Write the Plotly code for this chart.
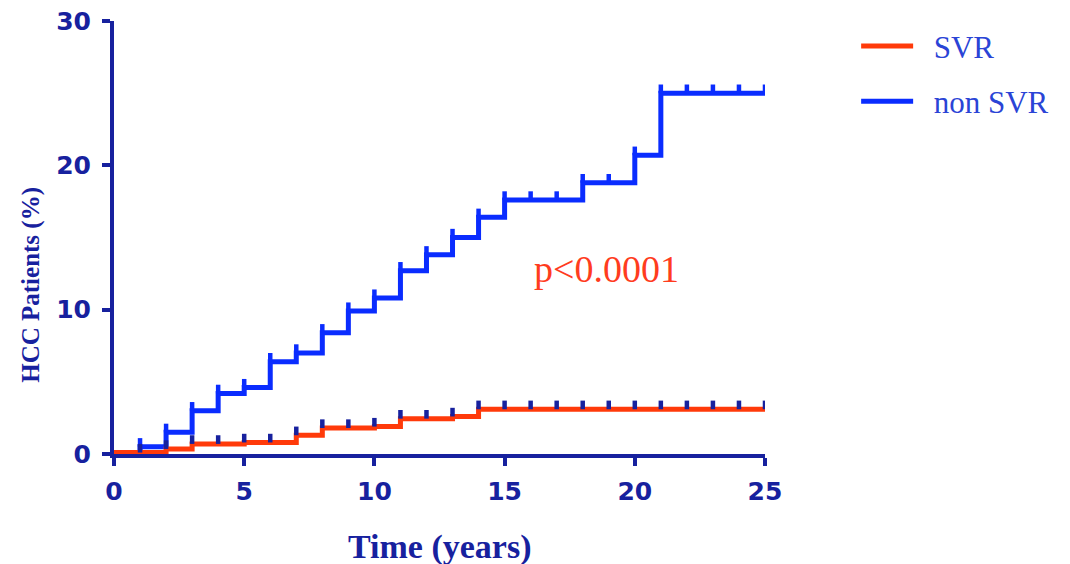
import plotly.graph_objects as go

# Cumulative HCC incidence (%) by follow-up time (years)
svr_years = [0, 2, 3, 5, 7, 8, 10, 11, 13, 14, 25]
svr_pct = [0.1, 0.35, 0.7, 0.8, 1.3, 1.8, 1.9, 2.45, 2.6, 3.1, 3.1]

nonsvr_years = [0, 1, 2, 3, 4, 5, 6, 7, 8, 9, 10, 11, 12, 13, 14, 15, 18, 20, 21, 25]
nonsvr_pct = [0.0, 0.5, 1.5, 3.0, 4.2, 4.6, 6.4, 7.0, 8.4, 9.9, 10.8, 12.7, 13.8,
              15.0, 16.4, 17.6, 18.8, 20.7, 25.0, 25.0]

# Censoring times (tick marks drawn on each curve)
censor_years = list(range(1, 26))

x_ticks = [0, 5, 10, 15, 20, 25]
y_ticks = [0, 10, 20, 30]

NAVY = "#17219e"
BLUE = "#0a2cff"
RED = "#ff3a0a"
MARK_H = 0.6  # censor tick height in % units
PAD = "\u00a0\u00a0"  # gap between legend swatch and label


def step_value(years, pct, t):
    v = pct[0]
    for yr, p in zip(years, pct):
        if yr <= t:
            v = p
    return v


def censor_segments(years, pct):
    xs, ys = [], []
    for t in censor_years:
        v = step_value(years, pct, t)
        xs += [t, t, None]
        ys += [v, v + MARK_H, None]
    return xs, ys


fig = go.Figure()

fig.add_trace(go.Scatter(
    x=nonsvr_years, y=nonsvr_pct, mode="lines", line=dict(shape="hv", color=BLUE, width=5),
    name=PAD + "non SVR", legendgroup="b", legendrank=2, cliponaxis=False))
bx, by = censor_segments(nonsvr_years, nonsvr_pct)
fig.add_trace(go.Scatter(x=bx, y=by, mode="lines", line=dict(color=BLUE, width=4.5),
                         showlegend=False, hoverinfo="skip", cliponaxis=False))

fig.add_trace(go.Scatter(
    x=svr_years, y=svr_pct, mode="lines", line=dict(shape="hv", color=RED, width=5),
    name=PAD + "SVR", legendgroup="a", legendrank=1, cliponaxis=False))
rx, ry = censor_segments(svr_years, svr_pct)
fig.add_trace(go.Scatter(x=rx, y=ry, mode="lines", line=dict(color=NAVY, width=4.5),
                         showlegend=False, hoverinfo="skip", cliponaxis=False))

fig.add_annotation(x=18.9, y=12.8, xref="x", yref="y", text="p<0.0001", showarrow=False,
                   font=dict(family="Liberation Serif", size=38, color="#ff3c1e"))

# Axis titles
fig.add_annotation(x=0.5, y=-0.215, xref="paper", yref="paper", text="<b>Time (years)</b>",
                   showarrow=False, xanchor="center", yanchor="middle",
                   font=dict(family="Liberation Serif", size=34, color=NAVY))
fig.add_annotation(x=-0.128, y=0.39, xref="paper", yref="paper", text="<b>HCC Patients (%)</b>",
                   showarrow=False, textangle=-90, xanchor="center", yanchor="middle",
                   font=dict(family="Liberation Serif", size=25, color=NAVY))

axis_common = dict(showline=True, linecolor=NAVY, linewidth=4, ticks="outside",
                   ticklen=8, tickwidth=4, tickcolor=NAVY, showgrid=False, zeroline=False,
                   automargin=False,
                   tickfont=dict(family="DejaVu Sans", size=25, color=NAVY, weight="bold"))

fig.update_xaxes(range=[0, 25], tickvals=x_ticks, **axis_common, ticklabelstandoff=4)
fig.update_yaxes(range=[0, 30], tickvals=y_ticks, **axis_common, ticklabelstandoff=6)

fig.update_layout(
    width=1070, height=564,
    margin=dict(l=114, r=305, t=21, b=110),
    paper_bgcolor="white", plot_bgcolor="white",
    legend=dict(x=1.14, y=1.004, xanchor="left", yanchor="top", tracegroupgap=12,
                itemwidth=52,
                font=dict(family="Liberation Serif", size=31, color="#2a44d6"),
                bgcolor="rgba(0,0,0,0)"),
)

fig.write_html("out.html")
